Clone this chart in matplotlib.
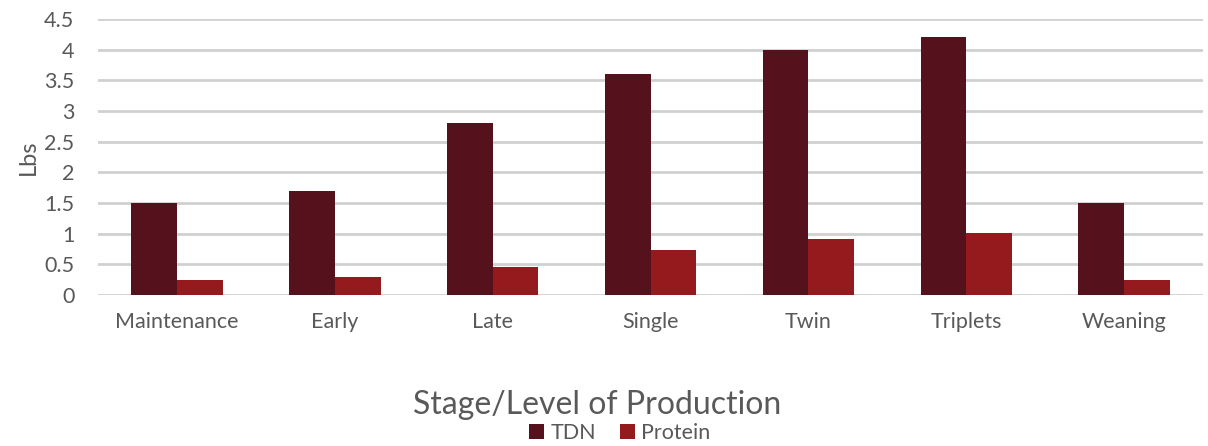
import numpy as np
import matplotlib.pyplot as plt

stages = ['Maintenance', 'Early', 'Late', 'Single', 'Twin', 'Triplets', 'Weaning']
tdn = [1.5, 1.7, 2.8, 3.6, 4.0, 4.2, 1.5]
protein = [0.25, 0.29, 0.45, 0.73, 0.92, 1.01, 0.25]
yticks = [0, 0.5, 1, 1.5, 2, 2.5, 3, 3.5, 4, 4.5]
ytick_labels = ['0', '0.5', '1', '1.5', '2', '2.5', '3', '3.5', '4', '4.5']

plt.rcParams['font.family'] = ['Lato', 'DejaVu Sans']
text_col = '#595959'

fig = plt.figure(figsize=(12.08, 4.46), dpi=100)
ax = fig.add_axes([0.0811, 0.3386, 0.9149, 0.6188])

x = np.arange(len(stages))
w = 0.29
ax.bar(x - w / 2, tdn, w, color='#55121C', label='TDN', zorder=3)
ax.bar(x + w / 2, protein, w, color='#951A1D', label='Protein', zorder=3)

ax.set_xlim(-0.5, len(stages) - 0.5)
ax.set_ylim(0, 4.5)
ax.set_yticks(yticks)
ax.set_yticklabels(ytick_labels)
ax.set_xticks(x)
ax.set_xticklabels(stages)
ax.grid(axis='y', color='#D0D0D0', linewidth=2, zorder=0)
ax.set_axisbelow(True)
for s in ax.spines.values():
    s.set_visible(False)
ax.tick_params(length=0, labelsize=15.5, colors=text_col)
ax.tick_params(axis='x', pad=12)
ax.tick_params(axis='y', pad=17)

ax.set_ylabel('Lbs', fontsize=17, color=text_col, labelpad=4)
fig.text(0.494, 0.092, 'Stage/Level of Production', ha='center', va='center',
         fontsize=23, color=text_col)
fig.legend(loc='center', bbox_to_anchor=(0.513, 0.03), ncol=2, frameon=False,
           fontsize=15.5, labelcolor=text_col, handlelength=0.7, handleheight=0.7,
           handletextpad=0.3, columnspacing=1.1)

fig.savefig('out.png', dpi=100)
